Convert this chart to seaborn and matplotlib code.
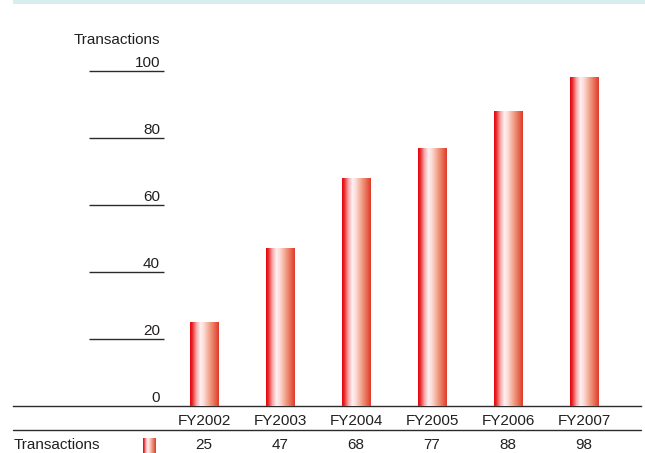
import numpy as np
import pandas as pd
import matplotlib
matplotlib.use("Agg")
import matplotlib.pyplot as plt
import seaborn as sns
from matplotlib.colors import LinearSegmentedColormap
from matplotlib.transforms import blended_transform_factory
from matplotlib.patches import Rectangle
from matplotlib.lines import Line2D

# Data
years = ["FY2002", "FY2003", "FY2004", "FY2005", "FY2006", "FY2007"]
transactions = [25, 47, 68, 77, 88, 98]
y_ticks = [0, 20, 40, 60, 80, 100]
axis_title = "Transactions"
row_label = "Transactions"

sns.set_theme(style="white")
plt.rcParams["font.family"] = ["Liberation Sans", "DejaVu Sans"]

INK = "#231f20"
RULE = "#2b2b2b"
FS = 11

W, H = 645, 453
fig = plt.figure(figsize=(W / 100, H / 100), dpi=100)
fig.patch.set_facecolor("white")


def fx(px):
    return px / W


def fy(py):
    return 1 - py / H


# light band along the top edge
fig.patches.append(Rectangle((fx(13), fy(4)), 1 - fx(13), 4 / H,
                             transform=fig.transFigure, color="#d6eeee", lw=0))

ax = fig.add_axes([fx(13), fy(406), fx(641) - fx(13), fy(71) - fy(406)])
ax.set_facecolor("none")

df = pd.DataFrame({"year": years, "transactions": transactions})
sns.barplot(data=df, x="year", y="transactions", ax=ax, width=0.37,
            color="white", linewidth=0, saturation=1, errorbar=None)

# horizontal red -> white -> red-orange shading across each bar
bar_cmap = LinearSegmentedColormap.from_list(
    "bar_shade",
    [(0.0, "#e2000c"), (0.08, "#e82a2a"), (0.22, "#f6a7a8"),
     (0.36, "#fff0f3"), (0.48, "#fbdcd6"), (0.72, "#ef9479"),
     (1.0, "#df3a2a")])
grad = np.linspace(0, 1, 256).reshape(1, -1)
for p in list(ax.patches):
    x0, w, h = p.get_x(), p.get_width(), p.get_height()
    ax.imshow(grad, cmap=bar_cmap, extent=[x0, x0 + w, 0, h],
              aspect="auto", zorder=3, interpolation="bilinear")

ax.set_xlim(-2.513, 5.75)
ax.set_ylim(0, 100)

for side in ["top", "right", "left"]:
    ax.spines[side].set_visible(False)
ax.spines["bottom"].set_color(RULE)
ax.spines["bottom"].set_linewidth(1.0)
ax.set_yticks([])
ax.set_xlabel("")
ax.set_ylabel("")
ax.tick_params(axis="x", length=0, pad=6, labelsize=FS, labelcolor=INK)
for lab in ax.get_xticklabels():
    lab.set_fontfamily(["Liberation Sans", "DejaVu Sans"])

# y scale: short rules with value labels sitting on them
yt = blended_transform_factory(ax.transAxes, ax.transData)
for t in y_ticks:
    if t > 0:
        ax.plot([0.121, 0.2404], [t, t], transform=yt, color=RULE,
                lw=1.0, clip_on=False, solid_capstyle="butt")
    ax.annotate(str(t), xy=(0.234, t), xycoords=yt, xytext=(0, 3),
                textcoords="offset points", ha="right", va="baseline",
                fontsize=FS, color=INK, annotation_clip=False)

fig.text(fx(160), fy(43.5), axis_title, ha="right", va="baseline",
         fontsize=FS, color=INK)

# data table row below the categories
fig.add_artist(Line2D([fx(13), fx(641)], [fy(430), fy(430)],
                      transform=fig.transFigure, color=RULE, lw=1.0))
rt = blended_transform_factory(ax.transData, fig.transFigure)
for i, v in enumerate(transactions):
    ax.text(i, fy(449), str(v), transform=rt, ha="center", va="baseline",
            fontsize=FS, color=INK, clip_on=False)
fig.text(fx(14), fy(449), row_label, ha="left", va="baseline",
         fontsize=FS, color=INK)

sw = fig.add_axes([fx(143), fy(453), fx(156) - fx(143), fy(438) - fy(453)])
sw.imshow(grad, cmap=bar_cmap, aspect="auto", interpolation="bilinear")
sw.set_axis_off()

fig.savefig("out.png", dpi=100)
